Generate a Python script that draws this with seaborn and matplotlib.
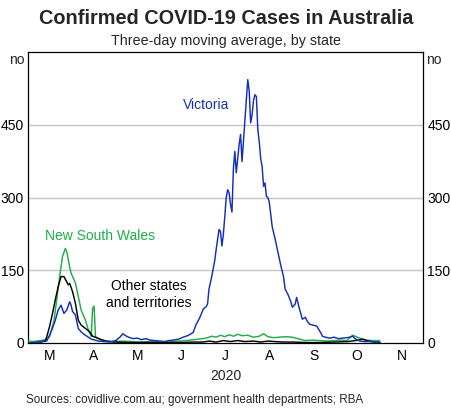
import matplotlib
matplotlib.use("Agg")
import matplotlib.pyplot as plt
import matplotlib.dates as mdates
from matplotlib.ticker import FuncFormatter, FixedLocator
import seaborn as sns
import pandas as pd

# ---------------- data ----------------
vic_dates = ["03-01", "03-05", "03-09", "03-12", "03-14", "03-16", "03-18", "03-20", "03-22", "03-24",
             "03-26", "03-28", "03-30", "03-31", "04-01", "04-03", "04-05", "04-07", "04-09", "04-11",
             "04-14", "04-19", "04-23", "04-27", "05-01", "05-04", "05-06", "05-08", "05-10", "05-13",
             "05-16", "05-19", "05-22", "05-25", "05-28", "06-01", "06-04", "06-07", "06-10", "06-14",
             "06-17", "06-20", "06-22", "06-24", "06-26", "06-27", "06-29", "07-01", "07-03", "07-04",
             "07-05", "07-07", "07-09", "07-10", "07-12", "07-13", "07-14", "07-15", "07-16", "07-17",
             "07-18", "07-19", "07-20", "07-21", "07-22", "07-23", "07-24", "07-25", "07-26", "07-27",
             "07-28", "08-01", "08-02", "08-03", "08-04", "08-05", "08-06", "08-07", "08-08", "08-09",
             "08-10", "08-11", "08-12", "08-13", "08-14", "08-15", "08-16", "08-17", "08-18", "08-20",
             "08-22", "08-24", "08-26", "08-27", "08-29", "08-31", "09-01", "09-03", "09-04", "09-05",
             "09-06", "09-07", "09-08", "09-10", "09-12", "09-13", "09-15", "09-18", "09-20", "09-21",
             "09-22", "09-24", "09-27", "09-30", "10-03", "10-06", "10-09", "10-11", "10-13", "10-15",
             "10-18", "10-21", "10-25", "10-29", "11-01"]
vic_cases = [0, 1, 2, 3, 4, 16, 30, 47, 68, 78,
             61, 68, 85, 78, 65, 58, 30, 23, 18, 14,
             8, 4, 3, 2, 5, 12, 19, 15, 12, 9,
             10, 7, 9, 6, 5, 4, 3, 5, 6, 8,
             12, 15, 18, 22, 38, 43, 55, 70, 75, 80,
             111, 138, 170, 193, 234, 230, 200, 224, 260, 300,
             316, 310, 286, 270, 360, 395, 351, 380, 410, 430,
             374, 543, 520, 454, 470, 500, 512, 508, 440, 415,
             380, 364, 323, 330, 302, 300, 290, 265, 240, 215,
             187, 160, 135, 111, 100, 85, 74, 80, 94, 82,
             70, 60, 49, 53, 42, 39, 37, 35, 25, 20,
             14, 12, 10, 12, 9, 10, 11, 12, 14, 8,
             4, 3, 3, 2, 2]

nsw_dates = ["03-01", "03-05", "03-09", "03-12", "03-14", "03-16", "03-18", "03-19", "03-21", "03-23",
             "03-25", "03-27", "03-28", "03-30", "03-31", "04-03", "04-05", "04-07", "04-10", "04-12",
             "04-14", "04-15", "04-16", "04-17", "04-20", "04-24", "04-30", "05-06", "05-12", "05-18",
             "05-25", "06-01", "06-08", "06-15", "06-22", "06-28", "07-03", "07-07", "07-10", "07-13",
             "07-16", "07-19", "07-22", "07-25", "07-28", "08-01", "08-05", "08-09", "08-12", "08-15",
             "08-19", "08-23", "08-27", "09-01", "09-06", "09-10", "09-15", "09-20", "09-25", "09-30",
             "10-05", "10-09", "10-13", "10-18", "10-22", "10-27", "11-01"]
nsw_cases = [4, 3, 5, 6, 8, 13, 35, 44, 89, 137,
             178, 195, 188, 157, 144, 124, 96, 68, 47, 27,
             13, 72, 76, 13, 8, 4, 3, 4, 3, 2,
             3, 2, 3, 4, 6, 8, 10, 14, 12, 16,
             13, 17, 14, 18, 15, 16, 12, 14, 19, 13,
             11, 12, 13, 12, 8, 5, 6, 5, 4, 5,
             6, 5, 16, 10, 6, 5, 5]

oth_dates = ["03-01", "03-06", "03-10", "03-13", "03-14", "03-16", "03-18", "03-20", "03-22", "03-24",
             "03-26", "03-28", "03-29", "03-30", "04-01", "04-03", "04-05", "04-07", "04-10", "04-13",
             "04-15", "04-20", "04-24", "04-30", "05-10", "05-20", "06-01", "06-15", "06-25", "07-01",
             "07-05", "07-10", "07-15", "07-20", "07-25", "07-30", "08-05", "08-10", "08-15", "08-20",
             "08-25", "09-01", "09-10", "09-20", "10-01", "10-10", "10-17", "10-20", "10-24", "10-28",
             "11-01"]
oth_cases = [0, 1, 2, 5, 12, 34, 60, 89, 116, 137,
             137, 126, 120, 123, 106, 82, 47, 37, 30, 23,
             14, 8, 4, 2, 1, 1, 1, 1, 2, 2,
             4, 2, 5, 3, 5, 3, 4, 2, 4, 3,
             2, 2, 1, 1, 2, 3, 6, 8, 4, 2,
             1]

series_names = ["New South Wales", "Other states and territories", "Victoria"]
month_labels = ["M", "A", "M", "J", "J", "A", "S", "O", "N"]
y_ticks = [0, 150, 300, 450]

# ---------------- build long table ----------------
frames = []
for name, d, v in [(series_names[0], nsw_dates, nsw_cases),
                   (series_names[1], oth_dates, oth_cases),
                   (series_names[2], vic_dates, vic_cases)]:
    frames.append(pd.DataFrame({"date": pd.to_datetime(["2020-" + s for s in d]),
                                "cases": v, "state": name}))
df = pd.concat(frames, ignore_index=True)

# ---------------- style ----------------
sns.set_style("white")
plt.rcParams["font.family"] = ["Liberation Sans", "DejaVu Sans"]

W, H = 452, 408
fig = plt.figure(figsize=(W / 100, H / 100), dpi=100)
ax = fig.add_axes([28 / W, 1 - 343 / H, (423 - 28) / W, (343 - 52) / H])

BLUE = "#1430b8"
GREEN = "#1fae48"
BLACK = "#000000"
palette = {series_names[0]: GREEN, series_names[1]: BLACK, series_names[2]: BLUE}

sns.lineplot(data=df, x="date", y="cases", hue="state", hue_order=series_names,
             palette=palette, legend=False, linewidth=1.05, ax=ax, zorder=3)

ax.set_ylim(0, 600)
ax.set_xlim(pd.Timestamp("2020-03-01"), pd.Timestamp("2020-12-01"))
ax.set_xlabel("")
ax.set_ylabel("")

# y axis (both sides)
ax.set_yticks(y_ticks)
ax.set_yticklabels([str(t) for t in y_ticks])
ax.tick_params(axis="y", which="both", length=0, pad=3, labelsize=10,
               labelleft=True, labelright=True, colors="#000000")
for t in y_ticks[1:]:
    ax.axhline(t, color="#c4c4c4", linewidth=1.0, zorder=1)

# x axis: ticks at month starts, labels mid-month
month_starts = pd.date_range("2020-04-01", "2020-11-01", freq="MS")
ax.xaxis.set_major_locator(FixedLocator(mdates.date2num(month_starts)))
ax.xaxis.set_major_formatter(FuncFormatter(lambda x, p: ""))
mids = pd.date_range("2020-03-01", "2020-11-01", freq="MS") + pd.Timedelta(days=15)
ax.xaxis.set_minor_locator(FixedLocator(mdates.date2num(mids)))
ax.xaxis.set_minor_formatter(FuncFormatter(lambda x, p: month_labels[p] if p is not None and p < len(month_labels) else ""))
ax.tick_params(axis="x", which="major", direction="in", length=4, width=0.9, color="#000000")
ax.tick_params(axis="x", which="minor", length=0, pad=4, labelsize=10, colors="#000000")

for s in ax.spines.values():
    s.set_visible(True)
    s.set_color("#000000")
    s.set_linewidth(0.9)

# unit labels
ax.text(-0.008, 0.973, "no", transform=ax.transAxes, ha="right", va="center", fontsize=10)
ax.text(1.008, 0.973, "no", transform=ax.transAxes, ha="left", va="center", fontsize=10)

# series labels
ax.text(pd.Timestamp("2020-06-17"), 490, "Victoria", color=BLUE, fontsize=10, ha="left", va="center")
ax.text(pd.Timestamp("2020-03-13"), 220, "New South Wales", color=GREEN, fontsize=10, ha="left", va="center")
ax.text(pd.Timestamp("2020-05-24"), 100, "Other states\nand territories", color=BLACK, fontsize=10,
        ha="center", va="center", linespacing=1.25)

# titles and notes
fig.text(0.5, 1 - 19 / H, "Confirmed COVID-19 Cases in Australia", ha="center", va="center",
         fontsize=14.3, fontweight="bold")
fig.text(0.5, 1 - 41 / H, "Three-day moving average, by state", ha="center", va="center", fontsize=10.3)
fig.text(226 / W, 1 - 376 / H, "2020", ha="center", va="center", fontsize=10)
fig.text(26 / W, 1 - 400 / H, "Sources: covidlive.com.au; government health departments; RBA",
         ha="left", va="center", fontsize=8.4)

fig.savefig("out.png", dpi=100)
